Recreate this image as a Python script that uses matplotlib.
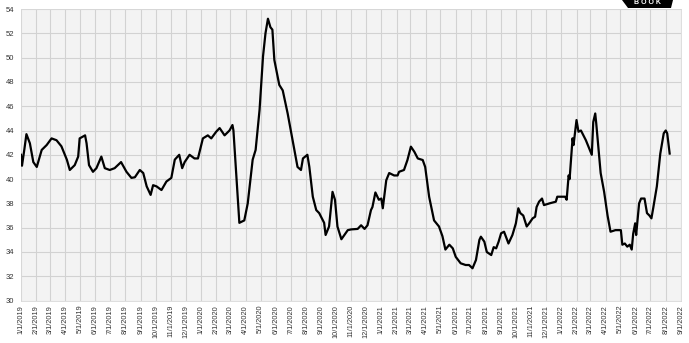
import pandas as pd
import matplotlib.pyplot as plt
from matplotlib.patches import Polygon

plt.rcParams['font.family'] = ['Liberation Sans', 'DejaVu Sans']

# values
dates = [
    "2019-01-01", "2019-01-03", "2019-01-08", "2019-01-12", "2019-01-19", "2019-01-26",
    "2019-02-02", "2019-02-12", "2019-02-22", "2019-03-04", "2019-03-14", "2019-03-24",
    "2019-04-04", "2019-04-10", "2019-04-20", "2019-04-27", "2019-04-30", "2019-05-11",
    "2019-05-14", "2019-05-19", "2019-05-27", "2019-06-03", "2019-06-13", "2019-06-20",
    "2019-06-30", "2019-07-10", "2019-07-23", "2019-08-03", "2019-08-13", "2019-08-20",
    "2019-08-30", "2019-09-06", "2019-09-13", "2019-09-21", "2019-09-26", "2019-10-03",
    "2019-10-13", "2019-10-23", "2019-11-02", "2019-11-09", "2019-11-18", "2019-11-24",
    "2019-11-29", "2019-12-09", "2019-12-19", "2019-12-26", "2020-01-05", "2020-01-15",
    "2020-01-22", "2020-02-01", "2020-02-08", "2020-02-18", "2020-02-28", "2020-03-05",
    "2020-03-07", "2020-03-19", "2020-03-29", "2020-04-05", "2020-04-15", "2020-04-21",
    "2020-04-29", "2020-05-06", "2020-05-11", "2020-05-16", "2020-05-21", "2020-05-25",
    "2020-05-29", "2020-06-08", "2020-06-15", "2020-06-25", "2020-07-05", "2020-07-15",
    "2020-07-22", "2020-07-26", "2020-08-04", "2020-08-08", "2020-08-15", "2020-08-22",
    "2020-08-28", "2020-09-07", "2020-09-10", "2020-09-17", "2020-09-24", "2020-09-29",
    "2020-10-04", "2020-10-12", "2020-10-25", "2020-11-01", "2020-11-14", "2020-11-21",
    "2020-11-28", "2020-12-04", "2020-12-11", "2020-12-14", "2020-12-20", "2020-12-27",
    "2021-01-01", "2021-01-04", "2021-01-11", "2021-01-17", "2021-01-27", "2021-02-03",
    "2021-02-06", "2021-02-16", "2021-02-23", "2021-03-02", "2021-03-09", "2021-03-16",
    "2021-03-26", "2021-03-31", "2021-04-08", "2021-04-18", "2021-04-28", "2021-05-05",
    "2021-05-11", "2021-05-19", "2021-05-26", "2021-06-01", "2021-06-11", "2021-06-21",
    "2021-06-28", "2021-07-05", "2021-07-12", "2021-07-19", "2021-07-22", "2021-07-29",
    "2021-08-03", "2021-08-12", "2021-08-17", "2021-08-22", "2021-08-27", "2021-09-01",
    "2021-09-07", "2021-09-16", "2021-09-24", "2021-10-01", "2021-10-06", "2021-10-10",
    "2021-10-16", "2021-10-23", "2021-10-28", "2021-11-04", "2021-11-09", "2021-11-12",
    "2021-11-17", "2021-11-23", "2021-11-27", "2021-12-08", "2021-12-21", "2021-12-24",
    "2022-01-09", "2022-01-12", "2022-01-16", "2022-01-18", "2022-01-24", "2022-01-26",
    "2022-02-01", "2022-02-05", "2022-02-10", "2022-02-20", "2022-03-04", "2022-03-07",
    "2022-03-11", "2022-03-13", "2022-03-22", "2022-03-29", "2022-04-05", "2022-04-11",
    "2022-04-21", "2022-05-02", "2022-05-05", "2022-05-10", "2022-05-15", "2022-05-20",
    "2022-05-24", "2022-05-27", "2022-05-31", "2022-06-02", "2022-06-08", "2022-06-12",
    "2022-06-19", "2022-06-24", "2022-06-29", "2022-07-03", "2022-07-07", "2022-07-14",
    "2022-07-21", "2022-07-28", "2022-08-01", "2022-08-04", "2022-08-09",
]
values = [
    42.0, 41.1, 42.5, 43.7, 42.95, 41.4,
    41.0, 42.4, 42.8, 43.35, 43.2, 42.7,
    41.6, 40.75, 41.15, 41.85, 43.35, 43.6,
    42.95, 41.15, 40.6, 40.9, 41.85, 40.9,
    40.75, 40.9, 41.4, 40.6, 40.1, 40.15,
    40.75, 40.5, 39.4, 38.7, 39.5, 39.4,
    39.1, 39.8, 40.1, 41.6, 42.0, 40.9,
    41.4, 42.0, 41.7, 41.7, 43.35, 43.6,
    43.35, 43.9, 44.2, 43.6, 44.0, 44.45,
    44.0, 36.4, 36.6, 38.0, 41.6, 42.4,
    45.7, 50.1, 52.0, 53.2, 52.5, 52.3,
    49.8, 47.75, 47.3, 45.4, 43.2, 41.0,
    40.75, 41.7, 42.0, 41.0, 38.55, 37.45,
    37.2, 36.4, 35.4, 36.1, 38.95, 38.3,
    36.1, 35.05, 35.8, 35.86, 35.9, 36.2,
    35.9, 36.2, 37.45, 37.7, 38.9, 38.3,
    38.4, 37.6, 39.9, 40.5, 40.3, 40.3,
    40.6, 40.75, 41.57, 42.67, 42.25, 41.7,
    41.57, 41.0, 38.55, 36.6, 36.1, 35.3,
    34.2, 34.6, 34.3, 33.6, 33.07, 32.93,
    32.93, 32.66, 33.34, 35.0, 35.26, 34.85,
    34.0, 33.75, 34.4, 34.3, 34.85, 35.54,
    35.67, 34.7, 35.4, 36.36, 37.6, 37.2,
    37.0, 36.1, 36.36, 36.77, 36.9, 37.7,
    38.14, 38.4, 37.86, 38.0, 38.14, 38.55,
    38.55, 38.3, 40.3, 40.0, 43.36, 42.8,
    44.86, 43.9, 44.0, 43.2, 42.0, 44.7,
    45.4, 44.6, 40.5, 38.96, 37.0, 35.67,
    35.8, 35.8, 34.6, 34.7, 34.44, 34.6,
    34.2, 35.5, 36.36, 35.4, 38.0, 38.4,
    38.4, 37.2, 37.0, 36.77, 37.7, 39.4,
    42.1, 43.77, 44.0, 43.77, 42.1,
]

month_ticks = pd.date_range("2019-01-01", "2022-09-01", freq="MS")
tick_labels = [f"{d.month}/{d.day}/{d.year}" for d in month_ticks]
y_ticks = list(range(30, 55, 2))

fig = plt.figure(figsize=(6.89, 3.43), dpi=100)
ax = fig.add_axes([21 / 689, 1 - 300.6 / 343, 660 / 689, 291.6 / 343])
ax.set_facecolor('#f3f3f3')

ax.plot(pd.to_datetime(dates), values, color='black', lw=1.6, zorder=3)

ax.set_xlim(month_ticks[0], month_ticks[-1])
ax.set_ylim(30, 54)
ax.set_xticks(month_ticks)
ax.set_xticklabels(tick_labels, rotation=90, fontsize=5.3, color='#333333')
ax.set_yticks(y_ticks)
ax.set_yticklabels([str(v) for v in y_ticks], fontsize=5.5, color='#333333')
ax.tick_params(axis='x', length=0, pad=3)
ax.tick_params(axis='y', length=0, pad=5)
ax.grid(True, color='#d2d2d2', lw=0.8)
for s in ax.spines.values():
    s.set_color('#d8d8d8')
    s.set_linewidth(0.6)

# partial logo in the corner
W, H = 689, 343
logo = Polygon([(622 / W, 1), (673 / W, 1), (671 / W, 1 - 8 / H), (628 / W, 1 - 8 / H)],
               closed=True, transform=fig.transFigure, facecolor='black', edgecolor='none')
fig.patches.append(logo)
fig.text(648 / W, 1 - 2 / H, "B O O K", color='white', fontsize=5, ha='center', va='center',
         fontweight='bold')

fig.savefig("out.png", dpi=100)
